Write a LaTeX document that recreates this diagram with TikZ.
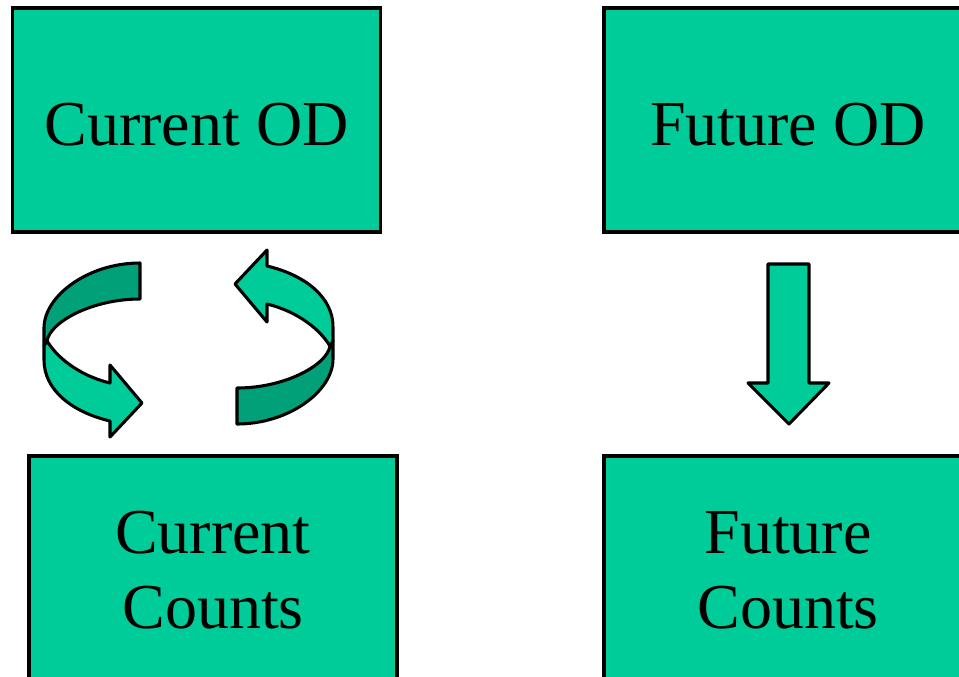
\documentclass[tikz,border=0pt]{standalone}
\usepackage{fontspec}
\setmainfont{Liberation Serif}
\definecolor{seagreen}{HTML}{00CC99}
\definecolor{seagreendark}{HTML}{00A078}
\tikzset{
  box/.style={draw=black, line width=2.4pt, fill=seagreen, rectangle,
    minimum width=276pt, minimum height=168pt, inner sep=0pt},
  boxtext/.style={font=\fontsize{48}{56}\selectfont, align=center, inner sep=0pt},
  ribbon/.style={draw=black, line width=2.3pt, line join=round},
  % half of a swirling 3-D ribbon arrow, drawn around its centre
  swirl/.pic={
    \path[ribbon, fill=seagreendark]
      (-48.5,-80.5) .. controls (-100.5,-80.5) and (-144.5,-47.5) .. (-144.5,-15.5)
      -- (-144.5,2.5) -- (-141.5,-2.5)
      .. controls (-138.5,-21.5) and (-96.5,-44.5) .. (-48.5,-44.5) -- cycle;
    \path[ribbon, fill=seagreen]
      (-141.5,-2.5) .. controls (-128.5,18.5) and (-103.5,33.5) .. (-78.5,39.5)
      -- (-78.5,21.5) -- (-46.5,59.5) -- (-78.5,93.5) -- (-78.5,77.5)
      .. controls (-116.5,68.5) and (-144.5,46.5) .. (-144.5,16.5)
      -- (-144.5,2.5) -- cycle;
  }
}
\begin{document}
\begin{tikzpicture}[x=0.75pt, y=-0.75pt]
\useasboundingbox (0,0) rectangle (959,676);
\clip (0,0) rectangle (959,676);

% the four boxes
\node[box] (cod) at (196.5,120) {};
\node[box] (fod) at (788,120) {};
\node[box] (ccount) at (213,568) {};
\node[box] (fcount) at (788,568) {};

% labels, placed by the baseline of their last line
\node[boxtext, anchor=base] (codtext) at (196.5,145) {Current OD};
\node[boxtext, anchor=base] (fodtext) at (788,145) {Future OD};
\node[boxtext, anchor=base] (ccounttext) at (213,628) {Current\\Counts};
\node[boxtext, anchor=base] (fcounttext) at (788,628) {Future\\Counts};

% two-way exchange between current OD and current counts
\coordinate (swirlc) at (188.5,343.5);
\pic at (swirlc) {swirl};
\pic[rotate=180] at (swirlc) {swirl};

% block arrow from future OD down to future counts
\path[ribbon, fill=seagreen]
  (768,264) -- (809,264) -- (809,383) -- (829,383) -- (789,424)
  -- (748,383) -- (768,383) -- cycle;
\end{tikzpicture}
\end{document}
